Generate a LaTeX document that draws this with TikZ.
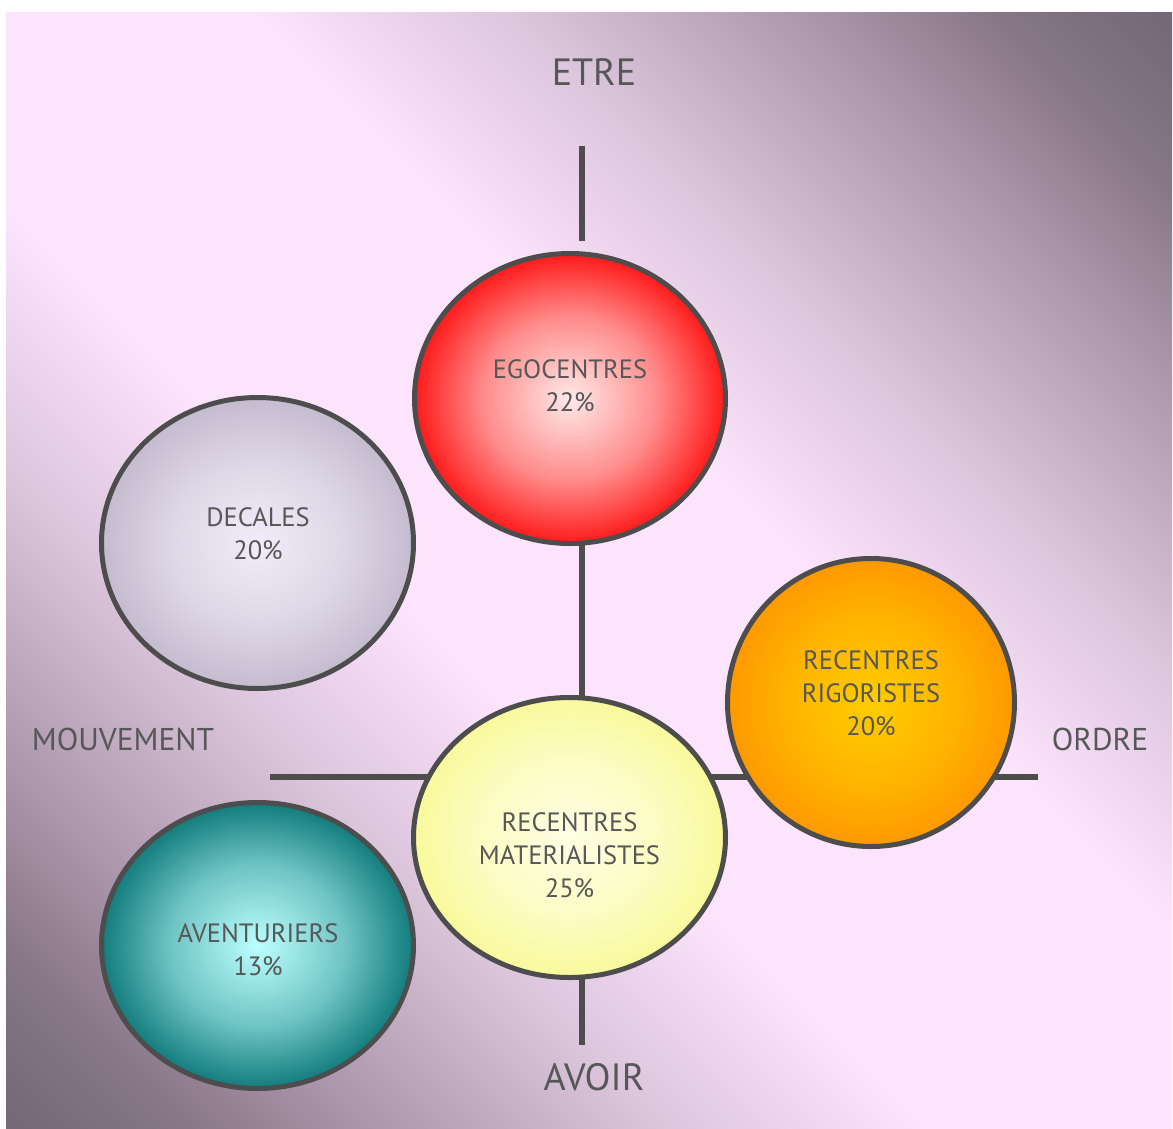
\documentclass[tikz,border=0pt]{standalone}
\usepackage{fontspec}
\setmainfont{PT Sans}
\usetikzlibrary{shapes.geometric}
\definecolor{bgdk}{HTML}{756878}
\definecolor{bgd2}{HTML}{877787}
\definecolor{bgm2}{HTML}{AD97AD}
\definecolor{bgm1}{HTML}{DCC6DC}
\definecolor{bglt}{HTML}{FCE4FC}
\definecolor{linec}{HTML}{4D4D4D}
\definecolor{txtc}{HTML}{575757}
% bubble colours
\definecolor{redin}{HTML}{FFE9E9}\definecolor{redout}{HTML}{FF1A1A}
\colorlet{redmid}{redin!55!redout}
\definecolor{decin}{HTML}{F2ECFA}\definecolor{decout}{HTML}{C4BCCE}
\colorlet{decmid}{decin!55!decout}
\definecolor{rigin}{HTML}{FFCC00}\definecolor{rigout}{HTML}{FF9900}
\colorlet{rigmid}{rigin!55!rigout}
\definecolor{matin}{HTML}{FEFEE4}\definecolor{matout}{HTML}{F9F99C}
\colorlet{matmid}{matin!55!matout}
\definecolor{avein}{HTML}{BCFFFF}\definecolor{aveout}{HTML}{127C7C}
\colorlet{avemid}{avein!55!aveout}
\pgfdeclareradialshading{redsh}{\pgfpoint{0bp}{0bp}}{color(0bp)=(redin); color(14bp)=(redmid); color(25bp)=(redout); color(50bp)=(redout)}
\pgfdeclareradialshading{decsh}{\pgfpoint{0bp}{0bp}}{color(0bp)=(decin); color(14bp)=(decmid); color(25bp)=(decout); color(50bp)=(decout)}
\pgfdeclareradialshading{rigsh}{\pgfpoint{0bp}{0bp}}{color(0bp)=(rigin); color(14bp)=(rigmid); color(25bp)=(rigout); color(50bp)=(rigout)}
\pgfdeclareradialshading{matsh}{\pgfpoint{0bp}{0bp}}{color(0bp)=(matin); color(14bp)=(matmid); color(25bp)=(matout); color(50bp)=(matout)}
\pgfdeclareradialshading{avesh}{\pgfpoint{0bp}{0bp}}{color(0bp)=(avein); color(14bp)=(avemid); color(25bp)=(aveout); color(50bp)=(aveout)}
\pgfdeclarehorizontalshading{bgshade}{100bp}{color(0bp)=(bgdk); color(15bp)=(bgdk); color(20bp)=(bgd2); color(26bp)=(bgm2); color(35bp)=(bgm1); color(43bp)=(bglt); color(57bp)=(bglt); color(65bp)=(bgm1); color(74bp)=(bgm2); color(80bp)=(bgd2); color(85bp)=(bgdk); color(100bp)=(bgdk)}
\begin{document}
\begin{tikzpicture}[x=1pt,y=-1pt,
  bubble/.style={ellipse, draw=linec, line width=5pt, inner sep=0pt},
  axisline/.style={draw=linec, line width=5.5pt},
  bubtext/.style={text=txtc, align=center, font=\fontsize{26.5}{33}\selectfont, inner sep=0pt},
  axistext/.style={text=txtc, anchor=base, inner sep=0pt},
]
\useasboundingbox (0,0) rectangle (1173,1128);
\fill[white] (0,0) rectangle (1173,1128);
\shade[shading=bgshade, shading angle=45] (6,12) rectangle (1172,1128);

% axis lines
\coordinate (vtop) at (582,146);
\coordinate (vtopend) at (582,241);
\coordinate (vmid) at (582,540);
\coordinate (vbot) at (582,1045);
\coordinate (hleft) at (270,777);
\coordinate (hright) at (1038,777);
\draw[axisline] (vtop) -- (vtopend);
\draw[axisline] (vmid) -- (vbot);
\draw[axisline] (hleft) -- (hright);

% bubbles
\node[bubble, minimum width=311pt, minimum height=290pt, shading=redsh] (ego) at (570,398.5) {};
\node[bubble, minimum width=312pt, minimum height=291pt, shading=decsh] (dec) at (257.5,543) {};
\node[bubble, minimum width=287pt, minimum height=288pt, shading=rigsh] (rig) at (871,702.5) {};
\node[bubble, minimum width=312pt, minimum height=280pt, shading=matsh] (mat) at (569.5,837.5) {};
\node[bubble, minimum width=312pt, minimum height=286pt, shading=avesh] (ave) at (257.5,945.5) {};

% bubble texts
\node[bubtext] (egot) at (570,386) {EGOCENTRES\\22\%};
\node[bubtext] (dect) at (258,534) {DECALES\\20\%};
\node[bubtext] (rigt) at (871,693) {RECENTRES\\RIGORISTES\\20\%};
\node[bubtext] (matt) at (569.5,855) {RECENTRES\\MATERIALISTES\\25\%};
\node[bubtext] (avet) at (258,950) {AVENTURIERS\\13\%};

% axis labels
\node[axistext, font=\fontsize{38}{42}\selectfont] (etre) at (594,85) {ETRE};
\node[axistext, font=\fontsize{38}{42}\selectfont] (avoir) at (594,1090) {AVOIR};
\node[axistext, font=\fontsize{31.5}{36}\selectfont] (mouv) at (123,750) {MOUVEMENT};
\node[axistext, font=\fontsize{31.5}{36}\selectfont] (ordre) at (1100,750) {ORDRE};
\end{tikzpicture}
\end{document}
